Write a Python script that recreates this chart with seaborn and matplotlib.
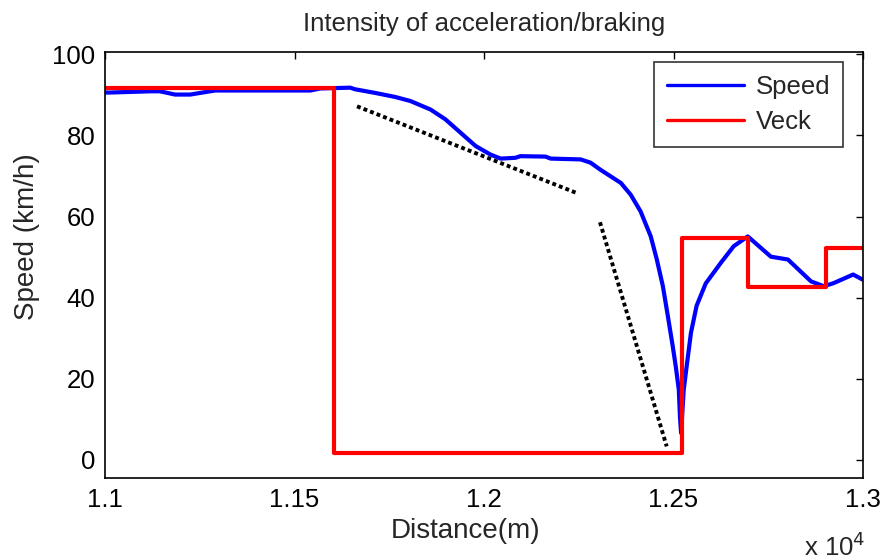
import matplotlib
matplotlib.use("Agg")
import matplotlib.pyplot as plt
import seaborn as sns
import pandas as pd
from matplotlib.ticker import FuncFormatter, FixedLocator

# ---- data ----
speed_x = [11000, 11013, 11119, 11145, 11185, 11225, 11277, 11291, 11542, 11568,
           11647, 11660, 11713, 11766, 11806, 11859, 11898, 11938, 11978, 12017,
           12044, 12083, 12096, 12162, 12176, 12255, 12281, 12308, 12361, 12387,
           12413, 12440, 12456, 12472, 12485, 12498, 12506, 12514, 12517, 12520,
           12527, 12536, 12546, 12561, 12585, 12625, 12659, 12696, 12757, 12802,
           12863, 12897, 12923, 12974, 13000]
speed_y = [90.6, 90.6, 90.9, 90.9, 90.1, 90.1, 90.9, 91.1, 91.1, 91.6,
           91.8, 91.4, 90.5, 89.5, 88.5, 86.4, 84.0, 80.7, 77.4, 75.3,
           74.3, 74.5, 74.9, 74.8, 74.3, 74.1, 73.3, 71.5, 68.3, 65.4,
           61.3, 55.1, 49.4, 42.8, 35.5, 28.0, 23.0, 17.3, 10.7, 6.6,
           17.3, 24.0, 31.3, 38.0, 43.5, 48.6, 52.7, 55.1, 50.1, 49.4,
           44.0, 42.8, 43.6, 45.7, 44.4]

veck_x = [11000, 11605, 12522, 12696, 12902, 13000]
veck_y = [91.8, 1.7, 54.8, 42.7, 52.3, 52.3]

trend1_x = [11665, 12242]
trend1_y = [87.2, 65.9]
trend2_x = [12306, 12482]
trend2_y = [58.6, 3.3]

xticks = [11000, 11500, 12000, 12500, 13000]
yticks = [0, 20, 40, 60, 80, 100]

title = "Intensity of acceleration/braking"
xlabel = "Distance(m)"
ylabel = "Speed (km/h)"

# ---- style ----
sns.set_style("white")
plt.rcParams['font.family'] = ['Liberation Sans', 'DejaVu Sans']
FS = 18.5
LFS = 20

fig = plt.figure(figsize=(8.83, 5.60), dpi=100)
ax = fig.add_axes([105/883, 1-478/560, (863-105)/883, (478-52)/560])

speed_df = pd.DataFrame({"x": speed_x, "y": speed_y})
veck_df = pd.DataFrame({"x": veck_x, "y": veck_y})

sns.lineplot(data=speed_df, x="x", y="y", ax=ax, color="#0000ff", lw=3,
             estimator=None, sort=False, label="Speed")
sns.lineplot(data=veck_df, x="x", y="y", ax=ax, color="#ff0000", lw=3,
             estimator=None, sort=False, drawstyle="steps-post", label="Veck")
for tx, ty in [(trend1_x, trend1_y), (trend2_x, trend2_y)]:
    sns.lineplot(x=tx, y=ty, ax=ax, color="black", lw=2.8,
                 linestyle=(0, (1, 0.8)), dash_capstyle="butt",
                 estimator=None, sort=False, legend=False)

ax.set_xlim(11000, 13000)
ax.set_ylim(-4.5, 100.6)
ax.xaxis.set_major_locator(FixedLocator(xticks))
ax.yaxis.set_major_locator(FixedLocator(yticks))
ax.xaxis.set_major_formatter(FuncFormatter(lambda v, p: f"{v/1e4:g}"))
ax.tick_params(direction="in", length=5, width=1, top=True, right=True,
               labelsize=FS, pad=7, colors="black")
for s in ax.spines.values():
    s.set_color("black")
    s.set_linewidth(1.2)

ax.set_title(title, fontsize=FS, pad=15)
ax.set_xlabel(xlabel, fontsize=LFS)
ax.set_ylabel(ylabel, fontsize=LFS)
ax.xaxis.set_label_coords(0.476, -0.093)
ax.yaxis.set_label_coords(-0.086, 0.566)

leg = ax.legend(loc="upper right", bbox_to_anchor=(0.974, 0.977),
                borderaxespad=0, fontsize=FS, frameon=True, fancybox=False,
                handlelength=3.0, handletextpad=0.45, borderpad=0.5,
                labelspacing=0.45)
leg.get_frame().set_edgecolor("black")
leg.get_frame().set_linewidth(1.2)
for h in leg.get_lines():
    h.set_linewidth(2.4)

fig.text(804/883, 1-556/560, r"x 10$^4$", fontsize=FS, ha="left", va="baseline")

fig.savefig("out.png", dpi=100)
